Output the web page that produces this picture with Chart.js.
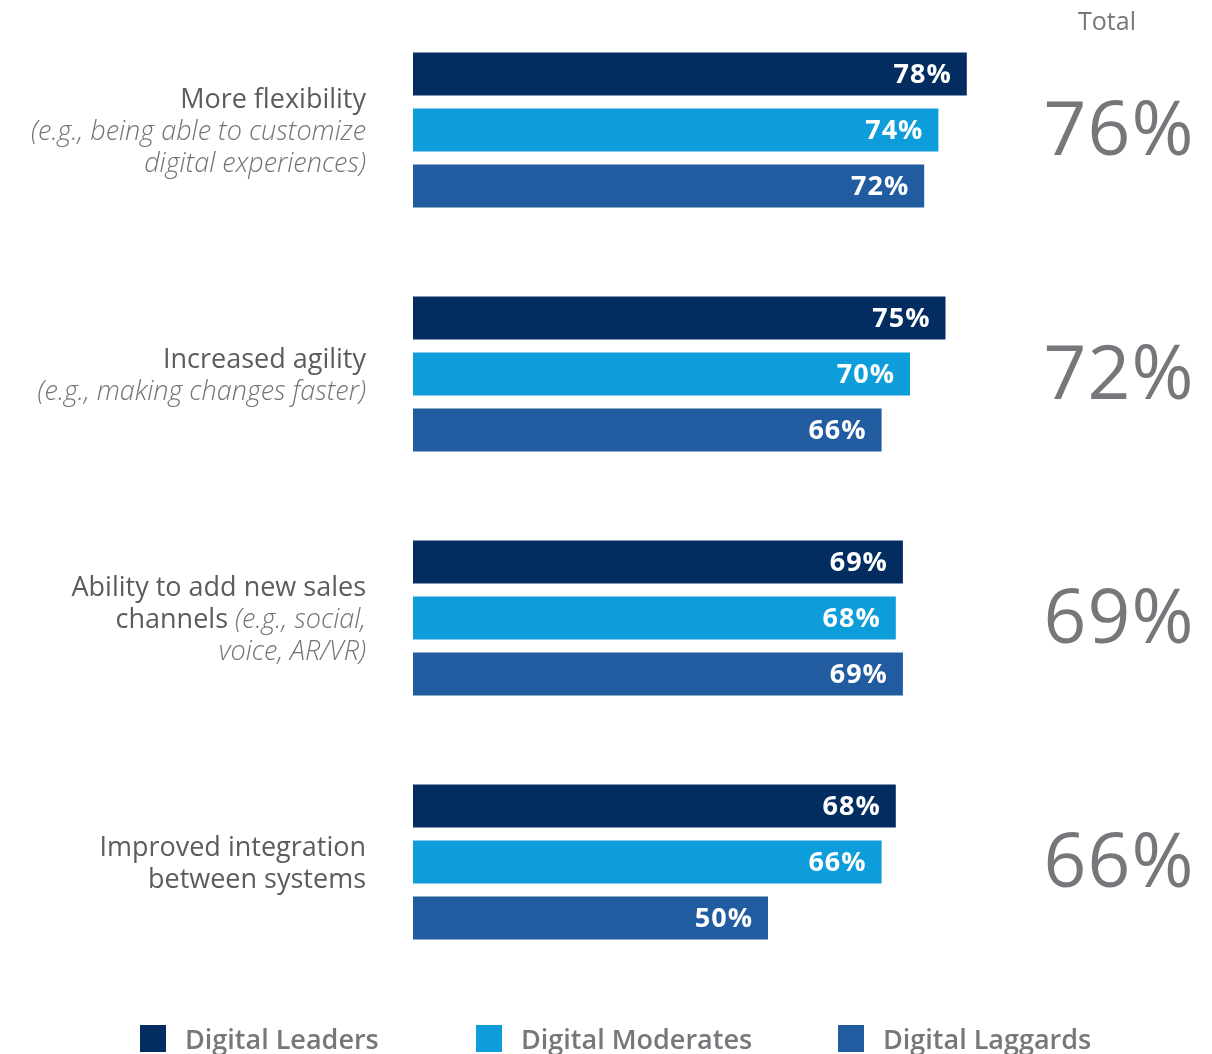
<!DOCTYPE html>
<html>
<head>
<meta charset="utf-8">
<script src="https://cdn.jsdelivr.net/npm/chart.js@4"></script>
<style>
  html, body { margin: 0; padding: 0; background: #fff; }
  #wrap { width: 1212px; height: 1054px; position: relative; }
</style>
</head>
<body>
<div id="wrap"><canvas id="myChart" width="1212" height="1054"></canvas></div>
<script>
// categories (main text + grey italic note, split into lines)
const categories = ["More flexibility", "Increased agility", "Ability to add new sales channels", "Improved integration between systems"];
const labelLines = [
  [[["More flexibility", false]], [["(e.g., being able to customize", true]], [["digital experiences)", true]]],
  [[["Increased agility", false]], [["(e.g., making changes faster)", true]]],
  [[["Ability to add new sales", false]], [["channels ", false], ["(e.g., social,", true]], [["voice, AR/VR)", true]]],
  [[["Improved integration", false]], [["between systems", false]]],
];

const leaders = [78, 75, 69, 68];
const moderates = [74, 70, 68, 66];
const laggards = [72, 66, 69, 50];
const totals = [76, 72, 69, 66];

const seriesNames = ["Digital Leaders", "Digital Moderates", "Digital Laggards"];
const seriesColors = ["#032d60", "#0d9dda", "#215ca0"];

const ctx = document.getElementById("myChart").getContext("2d");

const sideText = {
  id: "sideText",
  afterDatasetsDraw(chart) {
    const c = chart.ctx;
    const y = chart.scales.y;
    c.save();

    // values inside bars
    c.font = "bold 27px 'Open Sans'";
    c.letterSpacing = "1px";
    c.fillStyle = "#ffffff";
    c.textAlign = "right";
    c.textBaseline = "middle";
    chart.data.datasets.forEach((ds, di) => {
      chart.getDatasetMeta(di).data.forEach((bar, i) => {
        c.fillText(ds.data[i] + "%", bar.x - 15, bar.y + 1);
      });
    });
    c.letterSpacing = "0px";

    // category labels on the left
    const right = 366;
    const lh = 32;
    labelLines.forEach((lines, i) => {
      const cy = y.getPixelForValue(i) + 2;
      const top = cy - ((lines.length - 1) * lh) / 2;
      lines.forEach((parts, li) => {
        let x = right;
        for (let p = parts.length - 1; p >= 0; p--) {
          const [txt, ital] = parts[p];
          c.font = (ital ? "italic 300 " : "400 ") + "27px 'Open Sans'";
          c.fillStyle = ital ? "#737378" : "#5b5b60";
          c.textAlign = "right";
          c.fillText(txt, x, top + li * lh);
          x -= c.measureText(txt).width;
        }
      });
    });

    // totals column
    c.textAlign = "center";
    c.fillStyle = "#77767b";
    c.font = "400 25px 'Open Sans'";
    c.fillText("Total", 1107, 23);
    c.font = "400 75px 'Open Sans'";
    c.letterSpacing = "1px";
    totals.forEach((t, i) => {
      c.fillText(t + "%", 1119, y.getPixelForValue(i) + 4);
    });
    c.letterSpacing = "0px";

    // legend
    const lx = [140, 476, 838];
    c.font = "600 27px 'Open Sans'";
    c.textAlign = "left";
    c.textBaseline = "alphabetic";
    chart.data.datasets.forEach((ds, di) => {
      c.fillStyle = ds.backgroundColor;
      c.fillRect(lx[di], 1025, 26, 27);
      c.fillStyle = "#77767b";
      c.fillText(ds.label, lx[di] + 45, 1049);
    });

    c.restore();
  },
};

const data = {
  labels: categories,
  datasets: [
    { label: seriesNames[0], data: leaders, backgroundColor: seriesColors[0] },
    { label: seriesNames[1], data: moderates, backgroundColor: seriesColors[1] },
    { label: seriesNames[2], data: laggards, backgroundColor: seriesColors[2] },
  ],
};

const config = {
  type: "bar",
  data: data,
  options: {
    indexAxis: "y",
    responsive: false,
    animation: false,
    // 3 slots of 56px per 244px category, bars 43px thick
    categoryPercentage: 0.6885,
    barPercentage: 0.768,
    layout: {
      padding: { left: 413, right: 89, top: 8, bottom: 70 },
    },
    plugins: {
      legend: { display: false },
      tooltip: { enabled: false },
    },
    scales: {
      x: { min: 0, max: 100, display: false },
      y: { display: false },
    },
  },
  plugins: [sideText],
};

const myChart = new Chart(ctx, config);
</script>
</body>
</html>
